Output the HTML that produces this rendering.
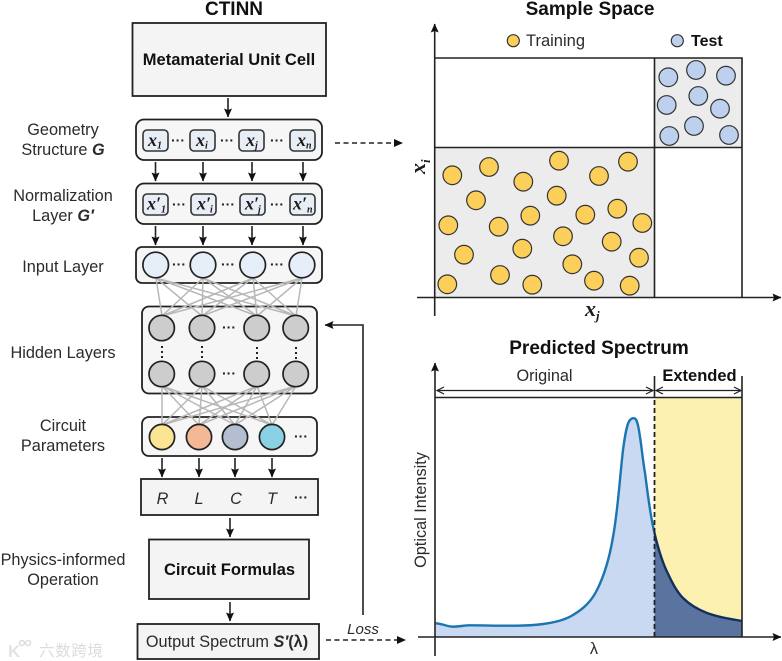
<!DOCTYPE html>
<html><head><meta charset="utf-8">
<style>
html,body{margin:0;padding:0;background:#fff;width:782px;height:661px;overflow:hidden}
svg{display:block;filter:blur(.35px)}
text{font-family:"Liberation Sans","Noto Sans CJK SC",sans-serif;fill:#1c1c1c}
.t{font-size:16.3px;text-anchor:middle;fill:#2b2b2b}
.h{font-size:19px;font-weight:bold;text-anchor:middle;fill:#111}
.b{font-size:16.5px;font-weight:bold;text-anchor:middle;fill:#111}
.box{fill:#f4f4f4;stroke:#222;stroke-width:1.8}
.rbox{fill:#f6f6f6;stroke:#222;stroke-width:1.8}
.xb{fill:#e8eef6;stroke:#333;stroke-width:1.6}
.x{font-family:"Liberation Serif",serif;font-style:italic;font-weight:bold;font-size:18px;fill:#1a1a1a}
.s{font-family:"Liberation Serif",serif;font-style:italic;font-weight:bold;font-size:10px;fill:#1a1a1a}
.d{font-size:14px;font-weight:bold;text-anchor:middle;fill:#222}
.l{stroke:#222;stroke-width:1.6;fill:none}
.n{stroke:#b8b8b8;stroke-width:1.5;fill:none}
.g{fill:#cdcdcd;stroke:#222;stroke-width:1.7}
.i{fill:#e5eef9;stroke:#222;stroke-width:1.7}
.y{fill:#fbcf5a;stroke:#333;stroke-width:1.2}
.e{fill:#bdd0ee;stroke:#333;stroke-width:1.2}
</style></head><body>
<svg width="782" height="661" viewBox="0 0 782 661" xmlns="http://www.w3.org/2000/svg">
<defs>
<marker id="a" markerWidth="10" markerHeight="10" refX="8.500" refY="4" orient="auto" markerUnits="userSpaceOnUse"><path d="M0,0L9,4L0,8L1.500,4Z" fill="#111"/></marker>
<marker id="o" markerWidth="10" markerHeight="10" refX="8" refY="4" orient="auto-start-reverse" markerUnits="userSpaceOnUse"><path d="M1,0.500L8,4L1,7.500" fill="none" stroke="#222" stroke-width="1.200"/></marker>
</defs>

<!-- Left titles and labels -->
<text class="h" x="234" y="15">CTINN</text>
<text class="t" x="63" y="135">Geometry</text>
<text class="t" x="63" y="155">Structure <tspan font-weight="bold" font-style="italic">G</tspan></text>
<text class="t" x="63" y="201">Normalization</text>
<text class="t" x="63" y="221">Layer <tspan font-weight="bold" font-style="italic">G′</tspan></text>
<text class="t" x="63" y="272">Input Layer</text>
<text class="t" x="63" y="358">Hidden Layers</text>
<text class="t" x="63" y="431">Circuit</text>
<text class="t" x="63" y="451">Parameters</text>
<text class="t" x="63" y="565">Physics-informed</text>
<text class="t" x="63" y="585">Operation</text>

<!-- Top box -->
<rect class="box" x="132.500" y="23" width="193.500" height="73"/>
<text class="b" x="229" y="65">Metamaterial Unit Cell</text>
<path class="l" d="M228,98V117" marker-end="url(#a)"/>

<!-- Geometry -->
<rect class="rbox" x="136" y="119.500" width="186" height="40.500" rx="8"/>
<rect class="xb" x="143" y="130" width="25" height="21" rx="4"/>
<rect class="xb" x="190" y="130" width="25" height="21" rx="4"/>
<rect class="xb" x="239" y="130" width="25" height="21" rx="4"/>
<rect class="xb" x="290" y="130" width="25" height="21" rx="4"/>
<text class="x" x="148" y="146">x</text><text class="s" x="157" y="148.500" font-style="normal">1</text>
<text class="x" x="196" y="146">x</text><text class="s" x="205" y="148.500">i</text>
<text class="x" x="246" y="146">x</text><text class="s" x="255" y="148.500">j</text>
<text class="x" x="297" y="146">x</text><text class="s" x="306" y="148.500">n</text>
<text class="d" x="178" y="145">···</text><text class="d" x="227" y="145">···</text><text class="d" x="277" y="145">···</text>
<path class="l" d="M155.500,162V181" marker-end="url(#a)"/><path class="l" d="M203,162V181" marker-end="url(#a)"/><path class="l" d="M252,162V181" marker-end="url(#a)"/><path class="l" d="M303,162V181" marker-end="url(#a)"/>

<!-- Normalization -->
<rect class="rbox" x="136" y="183.500" width="186" height="40.500" rx="8"/>
<rect class="xb" x="143" y="194" width="25" height="21" rx="4"/>
<rect class="xb" x="191" y="194" width="25" height="21" rx="4"/>
<rect class="xb" x="240" y="194" width="25" height="21" rx="4"/>
<rect class="xb" x="290" y="194" width="25" height="21" rx="4"/>
<text class="x" x="147" y="209.500">x′</text><text class="s" x="161" y="212.500" font-style="normal">1</text>
<text class="x" x="197" y="209.500">x′</text><text class="s" x="210" y="212.500">i</text>
<text class="x" x="245" y="209.500">x′</text><text class="s" x="258" y="212.500">j</text>
<text class="x" x="293" y="209.500">x′</text><text class="s" x="307" y="212.500">n</text>
<text class="d" x="179" y="209">···</text><text class="d" x="228" y="209">···</text><text class="d" x="277" y="209">···</text>
<path class="l" d="M155.500,226V245" marker-end="url(#a)"/><path class="l" d="M203,226V245" marker-end="url(#a)"/><path class="l" d="M252,226V245" marker-end="url(#a)"/><path class="l" d="M303,226V245" marker-end="url(#a)"/>

<!-- Panels -->
<rect class="rbox" x="136" y="247" width="186" height="36" rx="6"/>
<rect class="rbox" x="142" y="306.500" width="175" height="87" rx="7"/>
<rect class="rbox" x="142" y="417" width="175" height="39" rx="7"/>

<!-- Network lines -->
<path class="n" d="M156,278L162,316M156,278L202,316M156,278L257,316M156,278L296,316M203,278L162,316M203,278L202,316M203,278L257,316M203,278L296,316M253,278L162,316M253,278L202,316M253,278L257,316M253,278L296,316M302,278L162,316M302,278L202,316M302,278L257,316M302,278L296,316"/>
<path class="n" d="M162,386L162,425M162,386L199,425M162,386L235,425M162,386L272,425M202,386L162,425M202,386L199,425M202,386L235,425M202,386L272,425M257,386L162,425M257,386L199,425M257,386L235,425M257,386L272,425M296,386L162,425M296,386L199,425M296,386L235,425M296,386L272,425"/>

<!-- Input -->
<circle class="i" cx="155.700" cy="265" r="12.800"/><circle class="i" cx="203" cy="265" r="12.800"/><circle class="i" cx="252.700" cy="265" r="12.800"/><circle class="i" cx="302" cy="265" r="12.800"/>
<text class="d" x="179" y="269">···</text><text class="d" x="228" y="269">···</text><text class="d" x="277" y="269">···</text>

<!-- Hidden -->
<circle class="g" cx="161.700" cy="328" r="12.700"/><circle class="g" cx="202" cy="328" r="12.700"/><circle class="g" cx="256.700" cy="328" r="12.700"/><circle class="g" cx="295.700" cy="328" r="12.700"/>
<circle class="g" cx="161.700" cy="374" r="12.700"/><circle class="g" cx="202" cy="374" r="12.700"/><circle class="g" cx="256.700" cy="374" r="12.700"/><circle class="g" cx="295.700" cy="374" r="12.700"/>
<text class="d" x="229" y="332">···</text><text class="d" x="229" y="378">···</text>
<path d="M162,346V358M202,346V358M257,347V359M296,347V359" stroke="#222" stroke-width="2" stroke-dasharray="2 3" fill="none"/>

<!-- Params -->
<circle cx="162" cy="437" r="12.600" fill="#fbe592" stroke="#222" stroke-width="1.700"/>
<circle cx="199" cy="437" r="12.600" fill="#f3b896" stroke="#222" stroke-width="1.700"/>
<circle cx="235" cy="437" r="12.600" fill="#b3bfd0" stroke="#222" stroke-width="1.700"/>
<circle cx="272" cy="437" r="12.600" fill="#8ad2e3" stroke="#222" stroke-width="1.700"/>
<text class="d" x="301" y="441">···</text>
<path class="l" d="M162,458V477" marker-end="url(#a)"/><path class="l" d="M199,458V477" marker-end="url(#a)"/><path class="l" d="M235,458V477" marker-end="url(#a)"/><path class="l" d="M272,458V477" marker-end="url(#a)"/>

<!-- RLCT -->
<rect class="box" x="141" y="479" width="177" height="36"/>
<g font-style="italic"><text class="t" x="162.500" y="504">R</text><text class="t" x="199" y="504">L</text><text class="t" x="236" y="504">C</text><text class="t" x="272" y="504">T</text></g>
<text class="d" x="301" y="502">···</text>
<path class="l" d="M230,518V537" marker-end="url(#a)"/>

<rect class="box" x="149" y="539.500" width="160" height="59.500"/>
<text class="b" x="229.500" y="575">Circuit Formulas</text>
<path class="l" d="M230,602V621" marker-end="url(#a)"/>

<rect class="box" x="137.500" y="624" width="181.500" height="35"/>
<text class="t" x="227" y="647">Output Spectrum <tspan font-weight="bold" font-style="italic">S′</tspan><tspan font-weight="bold">(λ)</tspan></text>

<!-- Connectors -->
<path class="l" d="M363,615V325H325" marker-end="url(#a)"/>
<text class="t" x="363" y="634" font-style="italic" style="font-size:15px">Loss</text>
<path class="l" d="M326,640H400" stroke-dasharray="5 3.500"/><path d="M397,636L406,640L397,644Z" fill="#111"/>
<path class="l" d="M335,143H393" stroke-dasharray="5 3.500"/><path d="M394,139L403,143L394,147Z" fill="#111"/>

<!-- Watermark -->
<text x="8" y="657" font-size="17" font-weight="bold" style="fill:#e3e3e3">K</text>
<circle cx="22" cy="643" r="2.500" fill="none" stroke="#dedede" stroke-width="1.500"/><circle cx="28" cy="643" r="2.500" fill="none" stroke="#dedede" stroke-width="1.500"/>
<text x="39" y="656" font-size="15.500" style="fill:#dcdcdc" textLength="64">六数跨境</text>

<!-- Sample Space -->
<text class="h" x="590" y="15">Sample Space</text>
<rect x="435" y="147.500" width="219.500" height="150" fill="#ececec"/>
<rect x="654.500" y="58" width="87.500" height="89.500" fill="#ececec"/>
<path d="M435,58H742V297.500M654.500,58V297.500M435,147.500H742" fill="none" stroke="#222" stroke-width="1.600"/>
<path class="l" d="M434.700,316V24" marker-end="url(#a)"/>
<path class="l" d="M417,297.500H781" marker-end="url(#a)"/>
<circle class="y" cx="513.300" cy="40.700" r="6"/><text class="t" x="526" y="46" style="text-anchor:start;font-size:16.500px">Training</text>
<circle class="e" cx="677.300" cy="40.700" r="6"/><text class="b" x="691" y="46" style="text-anchor:start;font-size:16px">Test</text>
<g>
<circle class="y" cx="452.300" cy="175.300" r="9.300"/><circle class="y" cx="489" cy="167" r="9.300"/><circle class="y" cx="523.300" cy="181.700" r="9.300"/><circle class="y" cx="559" cy="160.700" r="9.300"/><circle class="y" cx="599" cy="176" r="9.300"/><circle class="y" cx="628" cy="161.700" r="9.300"/><circle class="y" cx="476" cy="200.300" r="9.300"/><circle class="y" cx="556.700" cy="195.700" r="9.300"/><circle class="y" cx="530.300" cy="215.700" r="9.300"/><circle class="y" cx="585.300" cy="214.700" r="9.300"/><circle class="y" cx="617.300" cy="208.700" r="9.300"/><circle class="y" cx="642.300" cy="223" r="9.300"/><circle class="y" cx="448.300" cy="225.300" r="9.300"/><circle class="y" cx="498.700" cy="226.700" r="9.300"/><circle class="y" cx="563" cy="236.300" r="9.300"/><circle class="y" cx="611.700" cy="241.700" r="9.300"/><circle class="y" cx="464" cy="254.700" r="9.300"/><circle class="y" cx="522.300" cy="248.700" r="9.300"/><circle class="y" cx="572.300" cy="264.300" r="9.300"/><circle class="y" cx="639" cy="257.700" r="9.300"/><circle class="y" cx="447.300" cy="284.300" r="9.300"/><circle class="y" cx="500" cy="275" r="9.300"/><circle class="y" cx="532.300" cy="284.700" r="9.300"/><circle class="y" cx="594" cy="280.700" r="9.300"/><circle class="y" cx="629.700" cy="285.700" r="9.300"/>
<circle class="e" cx="668.300" cy="77.300" r="9.300"/><circle class="e" cx="696" cy="70" r="9.300"/><circle class="e" cx="726" cy="75.700" r="9.300"/><circle class="e" cx="698.300" cy="96" r="9.300"/><circle class="e" cx="666.700" cy="105" r="9.300"/><circle class="e" cx="720" cy="108.700" r="9.300"/><circle class="e" cx="694" cy="126" r="9.300"/><circle class="e" cx="669.300" cy="136" r="9.300"/><circle class="e" cx="729" cy="135" r="9.300"/>
</g>
<g transform="translate(424,174) rotate(-90)"><text x="0" y="1" style="font-family:'Liberation Serif',serif;font-style:italic;font-weight:bold;font-size:22px">x</text><text x="11" y="6" style="font-family:'Liberation Serif',serif;font-style:italic;font-weight:bold;font-size:13px">i</text></g>
<text x="585" y="316" style="font-family:'Liberation Serif',serif;font-style:italic;font-weight:bold;font-size:22px">x</text>
<text x="596" y="320" style="font-family:'Liberation Serif',serif;font-style:italic;font-weight:bold;font-size:13px">j</text>

<!-- Predicted Spectrum -->
<text class="h" x="599" y="354">Predicted Spectrum</text>
<rect x="654.500" y="397.500" width="87.500" height="240" fill="#fdf1b2"/>
<path d="M435.700,623.300C442,623.500 447,626.700 453,626.700C459,626.700 464,625.300 470,625.300C485,625.300 500,625.900 517,625.700C527,625.600 535,625 543,624C555,622.500 565,620 573,615C583,609 591,602 597,590C605,574 610,555 613,537C618,510 620,475 623,450C625,435 627,423 630,420C632,418 633,418 634.300,418.300C636,418.500 637,421 638.300,426.700C641,440 642,455 645,473C648,495 650,515 654.500,533V637H435.700Z" fill="#c9d9f1"/>
<path d="M654.500,533C658,548 662,561 667,571.700C671,580 676,591 683,598C690,605 698,609.500 707,613C718,617 730,619 742,621V637H654.500Z" fill="#5b739f"/>
<path d="M435.700,623.300C442,623.500 447,626.700 453,626.700C459,626.700 464,625.300 470,625.300C485,625.300 500,625.900 517,625.700C527,625.600 535,625 543,624C555,622.500 565,620 573,615C583,609 591,602 597,590C605,574 610,555 613,537C618,510 620,475 623,450C625,435 627,423 630,420C632,418 633,418 634.300,418.300C636,418.500 637,421 638.300,426.700C641,440 642,455 645,473C648,495 650,515 654.500,533" fill="none" stroke="#1b75b0" stroke-width="2.400"/>
<path d="M654.500,533C658,548 662,561 667,571.700C671,580 676,591 683,598C690,605 698,609.500 707,613C718,617 730,619 742,621" fill="none" stroke="#12305f" stroke-width="2.400"/>
<path d="M435,397.500H742V637M742,376V398M654.500,376V398" fill="none" stroke="#222" stroke-width="1.600"/>
<path d="M654.500,400V637" fill="none" stroke="#222" stroke-width="1.800" stroke-dasharray="5 3"/>
<path class="l" d="M435,656V363" marker-end="url(#a)"/>
<path class="l" d="M418,637H781" marker-end="url(#a)"/>
<path d="M437,390.500H653" fill="none" stroke="#222" stroke-width="1.200" marker-start="url(#o)" marker-end="url(#o)"/>
<path d="M656,390.500H741" fill="none" stroke="#222" stroke-width="1.200" marker-start="url(#o)" marker-end="url(#o)"/>
<text class="t" x="544.500" y="381">Original</text>
<text class="b" x="699.500" y="381">Extended</text>
<text class="t" x="594" y="654">λ</text>
<text class="t" transform="translate(426,510) rotate(-90)" x="0" y="0">Optical Intensity</text>
</svg>
</body></html>
